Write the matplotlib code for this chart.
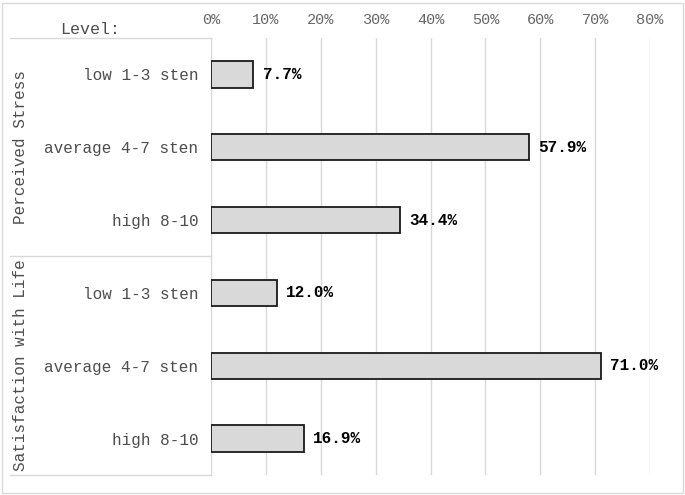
import matplotlib.pyplot as plt
from matplotlib.lines import Line2D
from matplotlib.ticker import FuncFormatter

plt.rcParams['font.family'] = ['Liberation Mono', 'DejaVu Sans Mono']

groups = ['Perceived Stress', 'Satisfaction with Life']
levels = ['low 1-3 sten', 'average 4-7 sten', 'high 8-10']
stress = [7.7, 57.9, 34.4]
life = [12.0, 71.0, 16.9]
xticks = [0, 10, 20, 30, 40, 50, 60, 70, 80]

labels = levels + levels
values = stress + life
pos = list(range(len(values)))

W, H = 685, 495
fig = plt.figure(figsize=(W / 100, H / 100), dpi=100)
ax = fig.add_axes([211 / W, 1 - 475 / H, (650 - 211) / W, (475 - 38) / H])

ax.barh(pos, values, height=0.36, color='#d9d9d9', edgecolor='#1a1a1a',
        linewidth=1.3, zorder=3)
for p, v in zip(pos, values):
    ax.text(v + 1.7, p, f'{v:.1f}%', va='center', ha='left',
            fontsize=11.5, fontweight='bold', color='black')

ax.set_xlim(0, 80)
ax.set_ylim(5.5, -0.5)
ax.set_xticks(xticks)
ax.xaxis.set_major_formatter(FuncFormatter(lambda x, _: f'{x:.0f}%'))
ax.xaxis.tick_top()
ax.tick_params(axis='x', length=0, pad=8, labelsize=11, labelcolor='#666666')
ax.set_yticks(pos)
ax.set_yticklabels(labels, fontsize=11.5, color='#4d4d4d')
ax.tick_params(axis='y', length=0, pad=9)
ax.grid(axis='x', color='#d9d9d9', linewidth=1, zorder=0)
for s in ['top', 'right', 'bottom']:
    ax.spines[s].set_visible(False)
ax.spines['left'].set_color('#d9d9d9')

# table lines on the left
for y in [38, 256, 475]:
    fig.add_artist(Line2D([10 / W, 211 / W], [1 - y / H, 1 - y / H],
                          color='#d9d9d9', linewidth=1))
# outer border
fig.add_artist(plt.Rectangle((2 / W, 2 / H), (W - 4) / W, (H - 5) / H,
                             fill=False, edgecolor='#d9d9d9', linewidth=1))

fig.text(90 / W, 1 - 30 / H, 'Level:', ha='center', va='center',
         fontsize=12, color='#4d4d4d')
fig.text(21 / W, 1 - 147 / H, groups[0], rotation=90, ha='center',
         va='center', fontsize=11.5, color='#4d4d4d')
fig.text(21 / W, 1 - 365 / H, groups[1], rotation=90, ha='center',
         va='center', fontsize=11.5, color='#4d4d4d')

fig.savefig('out.png', dpi=100)
